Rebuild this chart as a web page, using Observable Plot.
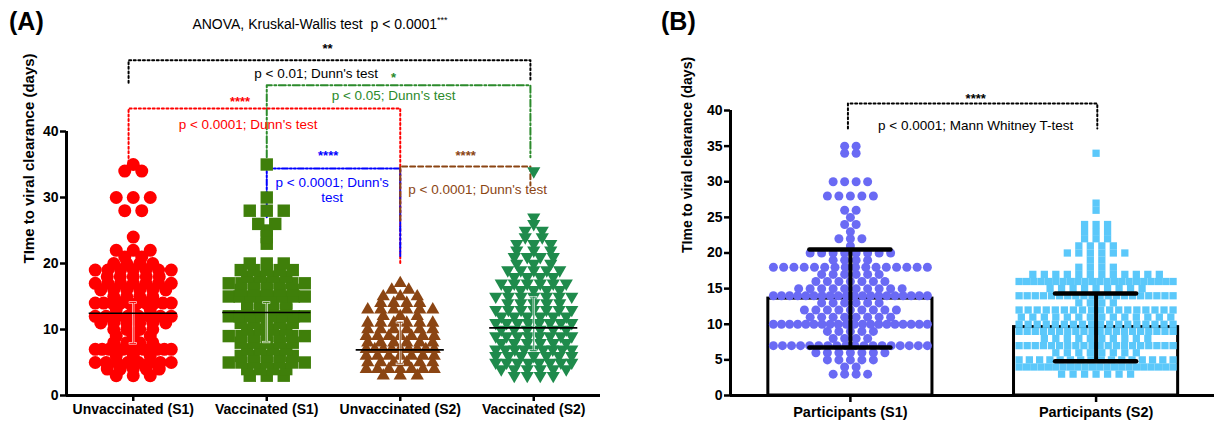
<!DOCTYPE html>
<html><head><meta charset="utf-8">
<script src="https://cdn.jsdelivr.net/npm/d3@7"></script>
<script src="https://cdn.jsdelivr.net/npm/@observablehq/plot@0.6"></script>
<style>
body{margin:0;background:#fff;}
#wrap{position:relative;width:1214px;height:422px;overflow:hidden;font-family:"Liberation Sans",Arial,sans-serif;background:#fff;}
.panel{position:absolute;top:0;}
.lbl{position:absolute;font-weight:bold;font-size:25px;line-height:1;}
.title{position:absolute;font-size:14px;white-space:nowrap;transform:translate(-50%,-50%);line-height:1;}
.title sup{font-size:9px;vertical-align:6px;}
</style></head><body>
<div id="wrap"></div>
<script>
// ---------- data (time to viral clearance, days : number of participants) ----------
const groupsA = ["Unvaccinated (S1)", "Vaccinated (S1)", "Unvaccinated (S2)", "Vaccinated (S2)"];
const unvaxS1 = [[3,3],[4,5],[5,8],[6,3],[7,12],[8,4],[9,3],[10,4],[11,6],[12,8],[13,3],[14,10],[15,4],[16,6],[17,7],[18,5],[19,7],[20,4],[21,2],[22,3],[24,1],[28,2],[30,3],[34,2],[35,1]];
const vaxS1   = [[3,3],[4,4],[5,7],[6,5],[7,4],[8,5],[9,7],[10,4],[11,5],[12,8],[13,4],[14,4],[15,8],[16,5],[17,7],[18,4],[19,5],[20,3],[23,1],[24,1],[25,1],[26,2],[28,3],[30,1],[35,1]];
const unvaxS2 = [[3,3],[4,7],[5,6],[6,7],[7,9],[8,6],[9,7],[10,6],[11,6],[12,3],[13,6],[14,4],[15,3],[16,2],[17,1]];
const vaxS2   = [[3,4],[4,6],[5,8],[6,7],[7,9],[8,6],[9,8],[10,6],[11,8],[12,6],[13,7],[14,5],[15,7],[16,5],[17,6],[18,4],[19,5],[20,3],[21,4],[22,3],[23,3],[24,2],[25,2],[26,1],[27,1],[34,1]];
const centerA = [12.47, 12.58, 6.92, 10.25];
const errLoA  = [7.9, 8.1, 4.8, 6.8];
const errHiA  = [14.1, 14.1, 11.1, 14.9];

const groupsB = ["Participants (S1)", "Participants (S2)"];
const partS1 = [[3,4],[4,2],[5,5],[6,7],[7,18],[8,4],[9,5],[10,20],[11,8],[12,9],[13,6],[14,20],[15,10],[16,7],[17,6],[18,16],[19,4],[20,8],[21,1],[22,3],[23,1],[24,2],[25,1],[26,2],[28,5],[30,4],[34,2],[35,2]];
const partS2 = [[3,7],[4,22],[5,16],[6,8],[7,20],[8,10],[9,20],[10,18],[11,14],[12,18],[13,4],[14,20],[15,9],[16,22],[17,12],[18,4],[19,2],[20,6],[21,4],[22,3],[23,3],[24,3],[26,1],[27,1],[34,1]];
const meanB = [13.6, 9.6];
const sdLoB = [6.75, 4.8];
const sdHiB = [20.5, 14.3];

const yTicksA = [0, 10, 20, 30, 40];
const yTicksB = [0, 5, 10, 15, 20, 25, 30, 35, 40];

// ---------- annotations ----------
const red = "#ff0000", green = "#2b8a2b", blue = "#0000ff", brown = "#8b4513";
const bracketsA = [
  {x1: 0.965, x2: 3.975, top: 50.8, yl: 47.4, yr: 47.7, color: "black", dash: "2,2.6"},
  {x1: 2.0, x2: 3.975, top: 47.0, yl: 36.1, yr: 36.1, color: green, dash: "7,2.5,2,2.5"},
  {x1: 0.965, x2: 3.0, top: 43.5, yl: 35.3, yr: 20.0, color: red, dash: "2,2.6"},
  {x1: 2.0, x2: 3.0, top: 34.4, yl: 27.0, yr: 20.9, color: blue, dash: "6,2,2,2,2,2"},
  {x1: 3.0, x2: 3.975, top: 34.7, yl: 26.5, yr: 31.8, color: brown, dash: "5,3"}
];
const starsA = [
  {x: 2.455, y: 53.0, t: "**", c: "black"},
  {x: 2.95, y: 48.6, t: "*", c: green},
  {x: 1.80, y: 45.0, t: "****", c: red},
  {x: 2.46, y: 36.7, t: "****", c: blue},
  {x: 3.49, y: 36.8, t: "****", c: brown}
];
const notesA = [
  {x: 2.37, y: 48.9, t: "p < 0.01; Dunn's test", c: "black"},
  {x: 2.95, y: 45.45, t: "p < 0.05; Dunn's test", c: green},
  {x: 1.86, y: 41.06, t: "p < 0.0001; Dunn's test", c: red},
  {x: 2.49, y: 31.14, t: "p < 0.0001; Dunn's\ntest", c: blue},
  {x: 3.58, y: 31.2, t: "p < 0.0001; Dunn's test", c: brown}
];
const bracketsB = [{x1: 0.99, x2: 2.005, top: 40.98, yl: 37.47, yr: 37.47, color: "black", dash: "2,2.6"}];
const starsB = [{x: 1.51, y: 42.1, t: "****", c: "black"}];
const notesB = [{x: 1.51, y: 37.9, t: "p < 0.0001; Mann Whitney T-test", c: "black"}];

// ---------- helpers ----------
const font = "'Liberation Sans', Arial, sans-serif";
function rows(pairs, cat, step, span, sparse) {
  const out = [];
  for (const [v, n] of pairs) {
    const base = n <= 3 ? sparse : step;
    const s = n > 1 ? Math.min(base, span / (n - 1)) : 0;
    for (let k = 0; k < n; k++) out.push({cat, v, x: cat + (k - (n - 1) / 2) * s});
  }
  return out;
}
function bracketMarks(list) {
  return list.map(b => Plot.line(
    [{x: b.x1, y: b.yl}, {x: b.x1, y: b.top}, {x: b.x2, y: b.top}, {x: b.x2, y: b.yr}],
    {x: "x", y: "y", stroke: b.color, strokeWidth: 2, strokeDasharray: b.dash, curve: "linear"}));
}
function noteMarks(stars, notes) {
  return [
    Plot.text(stars, {x: "x", y: "y", text: "t", fill: "c", fontSize: 13, fontWeight: "bold", dy: 3}),
    Plot.text(notes, {x: "x", y: "y", text: "t", fill: "c", fontSize: 13.5, lineHeight: 1.12})
  ];
}
const triangleDown = {draw(ctx, size) {
  const y = Math.sqrt(size / (3 * Math.sqrt(3)));
  ctx.moveTo(0, 2 * y); ctx.lineTo(-Math.sqrt(3) * y, -y); ctx.lineTo(Math.sqrt(3) * y, -y); ctx.closePath();
}};

// ---------- panel A ----------
const pxA = 133.5;
const stepA = 13 / pxA, sparseA = 17 / pxA, spanA = 76 / pxA;
const colorsA = [red, "#3f7f0a", brown, "#1f8b4c"];
const ptsA = [unvaxS1, vaxS1, unvaxS2, vaxS2].map((g, i) => rows(g, i + 1, stepA, i === 2 ? 68 / pxA : spanA, sparseA));
const statA = groupsA.map((g, i) => ({cat: i + 1, c: centerA[i], lo: errLoA[i], hi: errHiA[i], color: colorsA[i]}));

const A = Plot.plot({
  width: 620, height: 422,
  marginLeft: 66, marginRight: 20, marginTop: 131, marginBottom: 27,
  x: {domain: [0.5, 4.5], axis: null},
  y: {domain: [0, 40], axis: null},
  style: {fontFamily: font, color: "black", background: "white", overflow: "visible"},
  marks: [
    ...bracketMarks(bracketsA),
    ...noteMarks(starsA, notesA),
    Plot.dot(ptsA[0], {x: "x", y: "v", r: 6.5, fill: colorsA[0]}),
    Plot.dot(ptsA[1], {x: "x", y: "v", r: 7, symbol: "square", fill: colorsA[1]}),
    Plot.dot(ptsA[2], {x: "x", y: "v", r: 4.9, symbol: "triangle", fill: colorsA[2]}),
    Plot.dot(ptsA[3], {x: "x", y: "v", r: 4.9, symbol: triangleDown, fill: colorsA[3]}),
    Plot.ruleX(statA, {x: "cat", y1: "lo", y2: "hi", stroke: "white", strokeWidth: 2.2}),
    Plot.ruleY(statA, {y: "lo", x1: d => d.cat - 0.03, x2: d => d.cat + 0.03, stroke: "white", strokeWidth: 2.2}),
    Plot.ruleY(statA, {y: "hi", x1: d => d.cat - 0.03, x2: d => d.cat + 0.03, stroke: "white", strokeWidth: 2.2}),
    Plot.ruleX(statA, {x: "cat", y1: "lo", y2: "hi", stroke: "color", strokeWidth: 1}),
    Plot.ruleY(statA, {y: "lo", x1: d => d.cat - 0.026, x2: d => d.cat + 0.026, stroke: "color", strokeWidth: 1}),
    Plot.ruleY(statA, {y: "hi", x1: d => d.cat - 0.026, x2: d => d.cat + 0.026, stroke: "color", strokeWidth: 1}),
    Plot.ruleY(statA, {y: "c", x1: d => d.cat - 0.33, x2: d => d.cat + 0.33, stroke: "black", strokeWidth: 1.6}),
    Plot.axisY({ticks: yTicksA, tickSize: 6, strokeWidth: 2.5, fontSize: 14, fontWeight: "bold", tickPadding: 2}),
    Plot.axisX({ticks: [1, 2, 3, 4], tickFormat: d => groupsA[d - 1], tickSize: 6, strokeWidth: 2.5, fontSize: 14, fontWeight: "bold", tickPadding: 3}),
    Plot.ruleX([0.5], {y1: 0, y2: 40, strokeWidth: 3}),
    Plot.ruleY([0], {x1: 0.5, x2: 4.5, strokeWidth: 3}),
    Plot.text(["TIme to viral clearance (days)"], {frameAnchor: "left", rotate: -90, dx: -37, fontWeight: "bold", fontSize: 15})
  ]
});

// ---------- panel B ----------
const pxB = 245.7;
const stepB = 11.5 / pxB, spanB = 154 / pxB;
const ptsB1 = rows(partS1, 1, stepB, spanB, stepB);
const ptsB2 = rows(partS2, 2, stepB, spanB, stepB);
const statB = groupsB.map((g, i) => ({cat: i + 1, mean: meanB[i], lo: sdLoB[i], hi: sdHiB[i]}));

const B = Plot.plot({
  width: 594, height: 422,
  marginLeft: 110, marginRight: 0, marginTop: 110, marginBottom: 27,
  x: {domain: [0.512, 2.482], axis: null},
  y: {domain: [0, 40], axis: null},
  style: {fontFamily: font, color: "black", background: "white", overflow: "visible"},
  marks: [
    ...bracketMarks(bracketsB),
    ...noteMarks(starsB, notesB),
    Plot.rect(statB, {x1: d => d.cat - 0.334, x2: d => d.cat + 0.334, y1: 0, y2: "mean", fill: "white", stroke: "black", strokeWidth: 3}),
    Plot.dot(ptsB1, {x: "x", y: "v", r: 4.5, fill: "#6a6af4"}),
    Plot.dot(ptsB2, {x: "x", y: "v", r: 4.1, symbol: "square", fill: "#5bc8fa"}),
    Plot.ruleX(statB, {x: "cat", y1: "lo", y2: "hi", stroke: "black", strokeWidth: 4}),
    Plot.ruleY(statB, {y: "lo", x1: d => d.cat - 0.165, x2: d => d.cat + 0.165, stroke: "black", strokeWidth: 4.5, strokeLinecap: "round"}),
    Plot.ruleY(statB, {y: "hi", x1: d => d.cat - 0.165, x2: d => d.cat + 0.165, stroke: "black", strokeWidth: 4.5, strokeLinecap: "round"}),
    Plot.axisY({ticks: yTicksB, tickSize: 6, strokeWidth: 2.5, fontSize: 14, fontWeight: "bold", tickPadding: 2}),
    Plot.axisX({ticks: [1, 2], tickFormat: d => groupsB[d - 1], tickSize: 7, strokeWidth: 2.5, fontSize: 14.5, fontWeight: "bold", tickPadding: 4}),
    Plot.ruleX([0.512], {y1: 0, y2: 40, strokeWidth: 3}),
    Plot.ruleY([0], {x1: 0.512, x2: 2.482, strokeWidth: 3}),
    Plot.text(["TIme to viral clearance (days)"], {frameAnchor: "left", rotate: -90, dx: -43, fontWeight: "bold", fontSize: 14})
  ]
});

// ---------- assemble ----------
const wrap = document.getElementById("wrap");
A.classList.add("panel"); A.style.left = "0px";
B.classList.add("panel"); B.style.left = "620px";
wrap.appendChild(A); wrap.appendChild(B);
const la = document.createElement("div"); la.className = "lbl"; la.style.left = "9px"; la.style.top = "9px"; la.textContent = "(A)"; wrap.appendChild(la);
const lb = document.createElement("div"); lb.className = "lbl"; lb.style.left = "661px"; lb.style.top = "9px"; lb.textContent = "(B)"; wrap.appendChild(lb);
const t = document.createElement("div"); t.className = "title"; t.style.left = "320px"; t.style.top = "23px";
t.innerHTML = "ANOVA, Kruskal-Wallis test&nbsp; p &lt; 0.0001<sup>***</sup>"; wrap.appendChild(t);
</script>
</body></html>
